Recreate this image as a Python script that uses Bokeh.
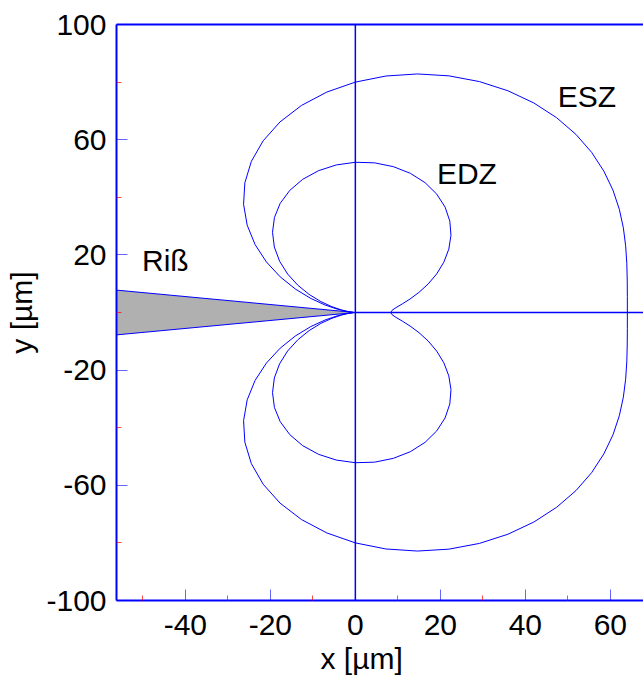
from bokeh.plotting import figure
from bokeh.models import FixedTicker, LinearAxis, Label, Range1d, Title, CustomJSTickFormatter
from bokeh.embed import file_html
from bokeh.resources import INLINE

# ---- data ----
# ESZ contour, upper half (from crack front x-axis round to crack tip)
esz_upper_x = [64.0, 64.0, 63.97, 63.87, 63.60, 63.06, 62.11, 60.62, 58.48, 55.60,
               51.90, 47.36, 42.00, 35.90, 29.19, 22.02, 14.61, 7.18, 0.0, -6.70,
               -12.68, -17.73, -21.70, -24.47, -26.00, -26.30, -25.45, -23.60, -20.93,
               -17.68, -14.11, -10.49, -7.09, -4.16, -1.90, -0.49, 0.0]
esz_upper_y = [0.0, 5.60, 11.28, 17.12, 23.15, 29.40, 35.86, 42.45, 49.07, 55.60,
               61.85, 67.63, 72.75, 76.99, 80.18, 82.17, 82.83, 82.11, 80.0, 76.55,
               71.89, 66.17, 59.61, 52.48, 45.03, 37.56, 30.33, 23.60, 17.56,
               12.38, 8.14, 4.89, 2.58, 1.11, 0.34, 0.04, 0.0]
# ESZ contour, lower half
esz_lower_x = [64.0, 64.0, 63.97, 63.87, 63.60, 63.06, 62.11, 60.62, 58.48, 55.60,
               51.90, 47.36, 42.00, 35.90, 29.19, 22.02, 14.61, 7.18, 0.0, -6.70,
               -12.68, -17.73, -21.70, -24.47, -26.00, -26.30, -25.45, -23.60, -20.93,
               -17.68, -14.11, -10.49, -7.09, -4.16, -1.90, -0.49, 0.0]
esz_lower_y = [0.0, -5.60, -11.28, -17.12, -23.15, -29.40, -35.86, -42.45, -49.07, -55.60,
               -61.85, -67.63, -72.75, -76.99, -80.18, -82.17, -82.83, -82.11, -80.0, -76.55,
               -71.89, -66.17, -59.61, -52.48, -45.03, -37.56, -30.33, -23.60, -17.56,
               -12.38, -8.14, -4.89, -2.58, -1.11, -0.34, -0.04, 0.0]

# EDZ contour, upper half
edz_upper_x = [8.32, 8.64, 9.56, 11.01, 12.86, 14.96, 17.12, 19.14, 20.82, 21.99,
               22.50, 22.23, 21.12, 19.16, 16.41, 12.95, 8.93, 4.55, 0.0, -4.48,
               -8.68, -12.39, -15.43, -17.68, -19.04, -19.49, -19.06, -17.83, -15.94,
               -13.55, -10.88, -8.12, -5.51, -3.24, -1.49, -0.38, 0.0]
edz_upper_y = [0.0, 0.76, 1.69, 2.95, 4.68, 6.98, 9.88, 13.40, 17.47, 21.99,
               26.81, 31.75, 36.58, 41.10, 45.08, 48.32, 50.65, 51.96, 52.16, 51.24,
               49.23, 46.24, 42.40, 37.91, 32.98, 27.84, 22.72, 17.83, 13.37,
               9.49, 6.28, 3.79, 2.01, 0.87, 0.26, 0.03, 0.0]
# EDZ contour, lower half
edz_lower_x = [8.32, 8.64, 9.56, 11.01, 12.86, 14.96, 17.12, 19.14, 20.82, 21.99,
               22.50, 22.23, 21.12, 19.16, 16.41, 12.95, 8.93, 4.55, 0.0, -4.48,
               -8.68, -12.39, -15.43, -17.68, -19.04, -19.49, -19.06, -17.83, -15.94,
               -13.55, -10.88, -8.12, -5.51, -3.24, -1.49, -0.38, 0.0]
edz_lower_y = [0.0, -0.76, -1.69, -2.95, -4.68, -6.98, -9.88, -13.40, -17.47, -21.99,
               -26.81, -31.75, -36.58, -41.10, -45.08, -48.32, -50.65, -51.96, -52.16, -51.24,
               -49.23, -46.24, -42.40, -37.91, -32.98, -27.84, -22.72, -17.83, -13.37,
               -9.49, -6.28, -3.79, -2.01, -0.87, -0.26, -0.03, 0.0]

# crack (Riß) wedge
crack_x = [-60.0, 0.0, -60.0]
crack_y = [8.3, 0.0, -8.3]

# cross lines through the crack tip
vline_x = [0.0, 0.0]
vline_y = [-100.0, 100.0]
hline_x = [0.0, 70.0]
hline_y = [0.0, 0.0]

x_major = [-40, -20, 0, 20, 40, 60]
x_minor = [-50, -30, -10, 10, 30, 50]
y_major = [-100, -60, -20, 20, 60, 100]
y_minor = [-80, -40, 0, 40, 80]

FONT = "Liberation Sans"
BLUE = "#0000ff"

p = figure(width=643, height=677, output_backend="svg", toolbar_location=None,
           x_range=Range1d(-56.2, 67.8), y_range=Range1d(-100, 100),
           min_border_left=116, min_border_right=0, min_border_top=24,
           min_border_bottom=40)
p.background_fill_color = "white"
p.border_fill_color = "white"
p.outline_line_color = None
p.grid.visible = False

# crack
p.patch(crack_x, crack_y, fill_color="#b0b0b0", line_color=BLUE, line_width=1)

# cross lines
p.line(vline_x, vline_y, line_color=BLUE, line_width=1.5)
p.line(hline_x, hline_y, line_color=BLUE, line_width=1.5)

# contours
for xs, ys in [(esz_upper_x, esz_upper_y), (esz_lower_x, esz_lower_y),
               (edz_upper_x, edz_upper_y), (edz_lower_x, edz_lower_y)]:
    p.line(xs, ys, line_color=BLUE, line_width=1)

fmt = CustomJSTickFormatter(code="return tick.toString();")

# axes styling
for ax, maj, mino in [(p.xaxis[0], x_major, x_minor), (p.yaxis[0], y_major, y_minor)]:
    ax.ticker = FixedTicker(ticks=maj, minor_ticks=mino)
    ax.formatter = fmt
    ax.axis_line_color = BLUE
    ax.axis_line_width = 2
    ax.major_tick_line_color = BLUE
    ax.major_tick_line_width = 1
    ax.major_tick_line_alpha = 0.6
    ax.major_tick_in = 11
    ax.major_tick_out = 0
    ax.minor_tick_line_color = "red"
    ax.minor_tick_line_width = 1
    ax.minor_tick_line_alpha = 0.7
    ax.minor_tick_in = 5
    ax.minor_tick_out = 0
    ax.major_label_text_font = FONT
    ax.major_label_text_font_size = "30px"
    ax.major_label_text_color = "black"

p.xaxis.major_label_standoff = 14
p.yaxis.major_label_standoff = 10
p.yaxis.axis_label = "y [µm]"
p.yaxis.axis_label_text_font = FONT
p.yaxis.axis_label_text_font_size = "30px"
p.yaxis.axis_label_text_font_style = "normal"
p.yaxis.axis_label_text_color = "black"
p.yaxis.axis_label_standoff = 5

# top border line
top = LinearAxis(ticker=FixedTicker(ticks=[]), axis_line_color=BLUE, axis_line_width=2,
                 major_tick_line_color=None, minor_tick_line_color=None,
                 major_label_text_font_size="0px")
p.add_layout(top, "above")

# x axis title (slightly left of frame centre, as in the reference)
p.add_layout(Title(text="x [µm]", text_font=FONT, text_font_size="30px",
                   text_font_style="normal", text_color="black",
                   align="left", offset=204, standoff=5), "below")

# texts inside the plot
for txt, x, y in [("ESZ", 47.6, 75.0), ("EDZ", 19.2, 48.3), ("Riß", -50.2, 18.0)]:
    p.add_layout(Label(x=x, y=y, text=txt, text_font=FONT, text_font_size="30px",
                       text_color="black", text_align="left", text_baseline="alphabetic"))

open("out.html", "w").write(file_html(p, INLINE))
